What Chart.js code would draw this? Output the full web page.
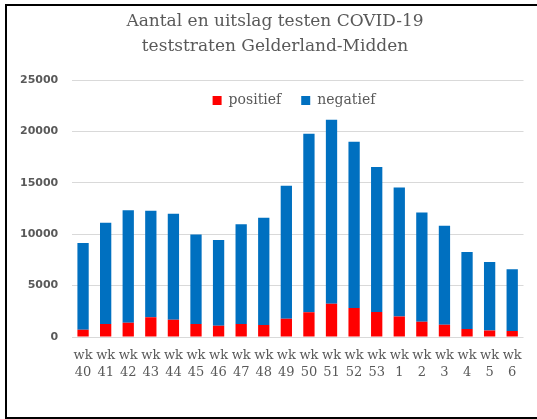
<!DOCTYPE html>
<html lang="nl">
<head>
    <meta charset="UTF-8">
    <title>Aantal en uitslag testen COVID-19</title>
    <script src="https://cdn.jsdelivr.net/npm/chart.js"></script>
    <style>
        body {
            margin: 0;
            background: #ffffff;
            overflow: hidden;
        }

        .wrap {
            position: relative;
            width: 537px;
            height: 419px;
        }

        .frame {
            position: absolute;
            left: 5px;
            top: 4px;
            width: 540px;
            height: 411px;
            border-top: 2px solid #000;
            border-left: 2px solid #000;
            border-bottom: 2px solid #000;
            pointer-events: none;
        }
    </style>
</head>
<body>
    <div class="wrap">
        <canvas id="chart"></canvas>
        <div class="frame"></div>
    </div>

    <script>
        // weeks (2020 wk40 .. 2021 wk6)
        const weeks = ['40', '41', '42', '43', '44', '45', '46', '47', '48', '49',
                       '50', '51', '52', '53', '1', '2', '3', '4', '5', '6'];
        const positief = [710, 1265, 1390, 1915, 1685, 1265, 1100, 1265, 1170, 1780,
                          2400, 3240, 2820, 2430, 2000, 1490, 1200, 780, 640, 585];
        const negatief = [8440, 9855, 10940, 10375, 10315, 8695, 8340, 9695, 10440, 12940,
                          17380, 17900, 16180, 14110, 12550, 10630, 9630, 7490, 6660, 5995];
        const yTicks = [0, 5000, 10000, 15000, 20000, 25000];

        const grey = '#595959';
        const serif = '"DejaVu Serif", serif';

        // legend sits inside the plot under the top gridline, title a bit right of centre
        const legendInPlot = {
            id: 'legendInPlot',
            afterLayout(chart) {
                const lg = chart.legend;
                const dy = chart.chartArea.top - 6.5 - lg.top;
                lg.top += dy;
                lg.bottom += dy;
                lg.left += 29;
                lg.right += 29;
                chart.titleBlock.left += 10;
                chart.titleBlock.right += 10;
            }
        };

        new Chart(document.getElementById('chart'), {
            type: 'bar',
            data: {
                labels: weeks.map(w => ['wk', w]),
                datasets: [{
                    label: 'positief',
                    data: positief,
                    backgroundColor: '#ff0000',
                    borderWidth: 0
                }, {
                    label: 'negatief',
                    data: negatief,
                    backgroundColor: '#0070c0',
                    borderWidth: 0
                }]
            },
            options: {
                responsive: true,
                maintainAspectRatio: false,
                animation: false,
                layout: {
                    padding: { left: 6.5, right: 13.5, top: 0, bottom: 27.2 }
                },
                datasets: {
                    bar: { categoryPercentage: 0.5, barPercentage: 1 }
                },
                plugins: {
                    title: {
                        display: true,
                        text: ['Aantal en uitslag testen COVID-19', 'teststraten Gelderland-Midden'],
                        color: grey,
                        font: { family: serif, size: 17, weight: 'normal', lineHeight: 25 / 17 },
                        padding: { top: 9, bottom: -23 }
                    },
                    legend: {
                        position: 'top',
                        labels: {
                            boxWidth: 9,
                            boxHeight: 9,
                            padding: 20,
                            color: grey,
                            font: { family: serif, size: 14 }
                        }
                    },
                    tooltip: { enabled: false }
                },
                scales: {
                    x: {
                        stacked: true,
                        grid: { display: false, drawTicks: false },
                        border: { display: false },
                        ticks: {
                            autoSkip: false,
                            maxRotation: 0,
                            padding: 10.5,
                            color: grey,
                            font: { family: serif, size: 13, lineHeight: 1.3 }
                        }
                    },
                    y: {
                        stacked: true,
                        min: yTicks[0],
                        max: yTicks[yTicks.length - 1],
                        afterBuildTicks: axis => {
                            axis.ticks = yTicks.map(v => ({ value: v }));
                        },
                        grid: { color: '#d9d9d9', drawTicks: false },
                        border: { display: false },
                        ticks: {
                            padding: 13.5,
                            color: grey,
                            font: { family: '"DejaVu Sans", sans-serif', size: 11, weight: 'bold' },
                            callback: v => String(v)
                        }
                    }
                }
            },
            plugins: [legendInPlot]
        });
    </script>
</body>
</html>
